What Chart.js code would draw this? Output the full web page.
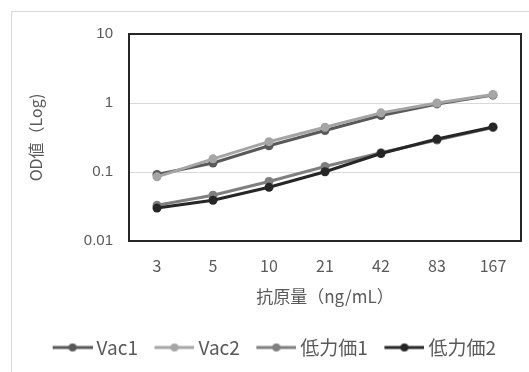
<!DOCTYPE html>
<html><head><meta charset="utf-8">
<script src="https://cdn.jsdelivr.net/npm/chart.js@4/dist/chart.umd.min.js"></script>
<style>
html,body{margin:0;padding:0;background:#fff;}
#wrap{position:relative;width:529px;height:372px;overflow:hidden;}
#frame{position:absolute;left:11px;top:11px;width:530px;height:380px;border-left:1px solid #d9d9d9;border-top:1px solid #d9d9d9;}
canvas{position:absolute;left:0;top:0;}
</style></head><body>
<div id="wrap"><div id="frame"></div><canvas id="c" width="529" height="372"></canvas></div>
<script>
const categories = ['3', '5', '10', '21', '42', '83', '167'];
const seriesNames = ['Vac1', 'Vac2', '低力価1', '低力価2'];
const vac1 = [0.092, 0.135, 0.24, 0.40, 0.66, 0.97, 1.30];
const vac2 = [0.085, 0.155, 0.275, 0.445, 0.72, 1.00, 1.33];
const low1 = [0.033, 0.046, 0.073, 0.12, 0.19, 0.29, 0.44];
const low2 = [0.030, 0.039, 0.060, 0.101, 0.185, 0.30, 0.45];
const yTicks = [0.01, 0.1, 1, 10];
const yTickLabels = ['0.01', '0.1', '1', '10'];
const xTitle = '抗原量（ng/mL）';
const yTitle = 'OD値（Log)';

const colors = ['#595959', '#a5a5a5', '#7f7f7f', '#262626'];
const seriesData = [vac1, vac2, low1, low2];
const textColor = '#595959';
const jp = '"Noto Sans CJK JP", "Noto Sans", sans-serif';

function legendIcon(color) {
  const c = document.createElement('canvas');
  c.width = 47; c.height = 12;
  const g = c.getContext('2d');
  g.strokeStyle = color; g.lineWidth = 3; g.lineCap = 'butt';
  g.beginPath(); g.moveTo(7, 6); g.lineTo(47, 6); g.stroke();
  g.fillStyle = color; g.beginPath(); g.arc(27, 6, 4, 0, Math.PI * 2); g.fill();
  return c;
}
const icons = colors.map(legendIcon);

const plotFrame = {
  id: 'plotFrame',
  afterDatasetsDraw(chart) {
    const a = chart.chartArea, g = chart.ctx;
    g.save(); g.strokeStyle = '#262626'; g.lineWidth = 2;
    g.strokeRect(a.left, a.top, a.right - a.left, a.bottom - a.top);
    g.restore();
  }
};

new Chart(document.getElementById('c'), {
  type: 'line',
  data: {
    labels: categories,
    datasets: seriesData.map((d, i) => ({
      label: seriesNames[i], data: d,
      borderColor: colors[i], backgroundColor: colors[i],
      borderWidth: 3, pointRadius: 4.5, pointBorderWidth: 0,
      pointBackgroundColor: colors[i], tension: 0, fill: false,
      order: 4 - i
    }))
  },
  options: {
    responsive: false, animation: false,
    layout: { padding: { top: 34, right: 8, bottom: 5, left: 26 } },
    plugins: {
      tooltip: { enabled: false },
      legend: {
        position: 'bottom',
        labels: {
          usePointStyle: true, pointStyleWidth: 36, padding: 15,
          color: textColor, font: { family: jp, size: 19 },
          sort: (a, b) => a.datasetIndex - b.datasetIndex,
          generateLabels(chart) {
            return chart.data.datasets.map((ds, i) => ({
              text: ds.label, datasetIndex: i, fillStyle: colors[i], strokeStyle: colors[i],
              lineWidth: 0, pointStyle: icons[i], hidden: false, fontColor: textColor
            }));
          }
        }
      }
    },
    scales: {
      x: {
        offset: true,
        grid: { display: false, drawTicks: false },
        border: { display: false },
        ticks: { color: textColor, font: { family: jp, size: 16 }, padding: 15 },
        title: { display: true, text: xTitle, color: textColor, font: { family: jp, size: 17 }, padding: { top: 4, bottom: 16 } },
        afterFit(s) { s.height = 82; }
      },
      y: {
        type: 'logarithmic', min: 0.01, max: 10,
        afterBuildTicks(s) { s.ticks = yTicks.map(v => ({ value: v })); },
        grid: { color: '#d9d9d9', lineWidth: 1, drawTicks: false },
        border: { display: false },
        ticks: {
          color: textColor, font: { family: '"Liberation Sans", Arial, sans-serif', size: 15 }, padding: 16,
          callback: (v) => { const k = yTicks.indexOf(v); return k >= 0 ? yTickLabels[k] : ''; }
        },
        title: { display: true, text: yTitle, color: textColor, font: { family: jp, size: 16 }, padding: { top: 0, bottom: 0 } },
        afterFit(s) { s.width = 103; }
      }
    }
  },
  plugins: [plotFrame]
});
</script>
</body></html>
